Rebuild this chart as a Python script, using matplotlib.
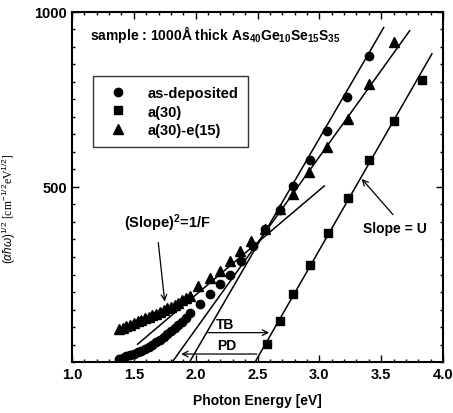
import matplotlib
matplotlib.use('Agg')
import matplotlib.pyplot as plt
from matplotlib.ticker import MultipleLocator

plt.rcParams['font.family'] = 'Liberation Sans'
plt.rcParams['mathtext.fontset'] = 'custom'
plt.rcParams['mathtext.rm'] = 'Liberation Sans'
plt.rcParams['mathtext.bf'] = 'Liberation Sans:bold'
plt.rcParams['mathtext.it'] = 'Liberation Sans:italic'

# data
dep_x = [1.38, 1.41, 1.44, 1.47, 1.50, 1.53, 1.56, 1.59, 1.62, 1.65, 1.68, 1.71, 1.74, 1.77,
         1.80, 1.83, 1.86, 1.89, 1.92, 1.954, 2.035, 2.116, 2.196, 2.277, 2.37, 2.46, 2.56,
         2.68, 2.79, 2.924, 3.064, 3.226, 3.404]
dep_y = [10, 13, 16, 20, 24, 28, 33, 38, 44, 50, 57, 64, 71, 79,
         88, 97, 106, 115, 125, 141, 165, 193, 222, 250, 288, 332, 380,
         435, 503, 577, 660, 757, 875]

a30_x = [2.574, 2.68, 2.79, 2.924, 3.073, 3.23, 3.40, 3.60, 3.827]
a30_y = [51, 117, 193, 276, 368, 468, 577, 688, 806]

ae_x = [1.38, 1.41, 1.44, 1.47, 1.50, 1.53, 1.56, 1.59, 1.62, 1.65, 1.68, 1.71, 1.74, 1.77,
        1.80, 1.83, 1.86, 1.89, 1.92, 1.95, 2.02, 2.116, 2.196, 2.277, 2.358, 2.45, 2.56,
        2.68, 2.79, 2.918, 3.059, 3.234, 3.404, 3.60]
ae_y = [94, 98, 102, 107, 111, 116, 120, 125, 129, 134, 138, 143, 148, 153,
        158, 164, 170, 176, 182, 189, 217, 241, 259, 288, 316, 345, 380,
        437, 479, 543, 615, 695, 793, 913]

# fitted straight lines (end points)
fit_dep = ([1.95, 3.52], [0, 955])
fit_a30 = ([2.48, 3.91], [0, 880])
fit_ae = ([1.81, 3.73], [0, 946])
tangent = ([1.53, 3.04], [51, 503])

fig = plt.figure(figsize=(4.53, 4.14), dpi=100)
ax = fig.add_axes([0.159, 0.123, 0.819, 0.846])

for fx, fy in [fit_dep, fit_a30, fit_ae, tangent]:
    ax.plot(fx, fy, color='black', lw=1.1)

ax.plot(dep_x, dep_y, 'o', color='black', ms=6, label='as-deposited')
ax.plot(a30_x, a30_y, 's', color='black', ms=5.5, label='a(30)')
ax.plot(ae_x, ae_y, '^', color='black', ms=6.5, label='a(30)-e(15)')

ax.set_xlim(1.0, 4.0)
ax.set_ylim(0, 1000)
ax.xaxis.set_major_locator(MultipleLocator(0.5))
ax.xaxis.set_minor_locator(MultipleLocator(0.1))
ax.set_yticks([500, 1000])
ax.yaxis.set_minor_locator(MultipleLocator(50))
ax.tick_params(which='both', direction='in', top=True, right=True, width=1)
ax.tick_params(which='major', length=5, labelsize=10.5)
ax.tick_params(which='minor', length=2.5)
for lab in ax.get_xticklabels() + ax.get_yticklabels():
    lab.set_fontweight('bold')
for s in ax.spines.values():
    s.set_linewidth(1.5)

ax.set_xlabel('Photon Energy [eV]', fontsize=10, fontweight='bold', labelpad=9)
ax.set_ylabel(r'$(\alpha\hbar\omega)^{1/2}$ [cm$^{-1/2}$eV$^{1/2}$]', fontsize=8.5,
              family='Liberation Serif')
ax.yaxis.set_label_coords(-0.145, 0.44)

ax.text(1.145, 937, r'sample : 1000Å thick As$_{\mathbf{40}}$Ge$_{\mathbf{10}}$Se$_{\mathbf{15}}$S$_{\mathbf{35}}$',
        fontsize=10, fontweight='bold', va='center')

leg = ax.legend(loc='upper left', bbox_to_anchor=(0.057, 0.817), borderaxespad=0,
                fancybox=False, edgecolor='black', handletextpad=1.0,
                borderpad=0.7, labelspacing=0.3, prop={'weight': 'bold', 'size': 10.5})
leg.get_frame().set_linewidth(1.0)

arrow = dict(arrowstyle='->', color='black', lw=0.9)
ax.annotate('', xy=(1.752, 165), xytext=(1.695, 349), arrowprops=arrow)
ax.text(1.77, 398, r'(Slope)$^{\mathbf{2}}$=1/F', fontsize=10.5, fontweight='bold', ha='center', va='center')

ax.annotate('', xy=(3.328, 529), xytext=(3.61, 415), arrowprops=arrow)
ax.text(3.61, 383, 'Slope = U', fontsize=10, fontweight='bold', ha='center', va='center')

ax.annotate('', xy=(2.617, 84), xytext=(2.075, 84), arrowprops=arrow)
ax.text(2.24, 110, 'TB', fontsize=10, fontweight='bold', ha='center', va='center')
ax.annotate('', xy=(1.86, 23), xytext=(2.517, 23), arrowprops=arrow)
ax.text(2.25, 48, 'PD', fontsize=10, fontweight='bold', ha='center', va='center')

fig.savefig('out.png', dpi=100)
